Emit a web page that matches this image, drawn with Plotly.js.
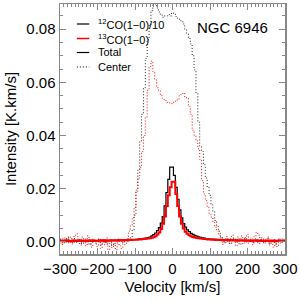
<!DOCTYPE html>
<html>
<head>
<meta charset="utf-8">
<script src="https://cdn.plot.ly/plotly-3.0.1.min.js"></script>
<style>html,body{margin:0;padding:0;background:#fff}#chart{width:300px;height:300px}</style>
</head>
<body>
<div id="chart"></div>
<script>
// Velocity channels [km/s]
const velocity = [
-300,-295,-290,-285,-280,-275,-270,-265,-260,-255,
-250,-245,-240,-235,-230,-225,-220,-215,-210,-205,
-200,-195,-190,-185,-180,-175,-170,-165,-160,-155,
-150,-145,-140,-135,-130,-125,-120,-115,-110,-105,
-100,-95,-90,-85,-80,-75,-70,-65,-60,-55,
-50,-45,-40,-35,-30,-25,-20,-15,-10,-5,
0,5,10,15,20,25,30,35,40,45,
50,55,60,65,70,75,80,85,90,95,
100,105,110,115,120,125,130,135,140,145,
150,155,160,165,170,175,180,185,190,195,
200,205,210,215,220,225,230,235,240,245,
250,255,260,265,270,275,280,285,290,295,
300];

// 12CO(1-0)/10, Center (black dotted)
const center12 = [
0.0010,0.0004,-0.0006,0.0008,0.0015,0.0002,-0.0004,0.0006,0.0012,-0.0002,
0.0005,0.0009,-0.0008,0.0003,0.0011,0.0000,-0.0010,0.0004,0.0007,-0.0005,
0.0002,0.0010,-0.0012,-0.0003,0.0006,-0.0009,0.0001,0.0008,-0.0015,-0.0006,
0.0004,-0.0002,0.0009,0.0003,-0.0004,0.0006,0.0002,0.0008,
0.0015,0.0045,0.010,0.019,0.027,0.038,0.048,0.058,0.069,0.076,
0.0815,0.087,0.0905,0.0895,0.088,0.0865,0.0855,0.0845,0.085,0.085,
0.0855,0.085,0.0862,0.0858,0.0848,0.0842,0.0838,0.083,0.082,0.080,
0.0785,0.0765,0.0745,0.070,0.0647,0.056,0.045,0.036,0.034,0.029,
0.024,0.0205,0.0175,0.014,0.0115,0.008,0.0058,0.004,0.002,
0.0008,-0.0004,0.0010,0.0003,-0.0008,0.0006,0.0012,-0.0002,0.0005,-0.0010,
0.0007,0.0002,0.0014,-0.0005,0.0004,0.0009,-0.0003,0.0011,0.0006,-0.0007,
0.0003,0.0010,-0.0004,0.0005,0.0013,-0.0006,0.0002,0.0008,-0.0009,0.0004,
0.0010,-0.0003,0.0006,0.0002];

// 13CO(1-0), Center (red dotted)
const center13 = [
0.0005,-0.0010,0.0015,0.0008,-0.0005,0.0020,0.0012,-0.0008,0.0025,0.0030,
0.0010,-0.0012,0.0018,0.0004,-0.0015,0.0022,0.0006,-0.0020,0.0010,0.0002,
-0.0018,0.0012,-0.0025,0.0008,-0.0010,0.0015,-0.0030,0.0005,-0.0022,-0.0008,
-0.0030,0.0010,-0.0015,-0.0025,0.0004,-0.0010,
0.0012,0.004,0.006,0.009,0.013,0.0195,0.024,0.028,0.034,0.040,
0.047,0.057,0.066,0.068,0.064,0.061,0.058,0.057,0.055,0.054,
0.0535,0.0525,0.0525,0.052,0.052,0.0525,0.053,0.0535,0.055,0.0555,
0.056,0.0545,0.054,0.051,0.048,0.042,0.040,0.038,0.035,0.031,
0.023,0.018,0.0155,0.013,0.0105,0.0093,0.0075,0.0055,0.004,0.0025,
0.0015,
-0.0010,0.0008,0.0020,-0.0005,0.0012,0.0025,0.0005,-0.0015,0.0018,0.0010,
0.0022,-0.0008,0.0015,0.0028,0.0006,0.0012,-0.0010,0.0020,0.0035,0.0025,
0.0008,0.0015,-0.0005,0.0010,0.0018,-0.0012,0.0005,-0.0020,0.0008,-0.0018,
0.0010,-0.0005,0.0012,0.0003];

// 12CO(1-0)/10, Total (black solid)
const total12 = [
0.0002,0.0003,0.0002,0.0003,0.0002,0.0003,0.0003,0.0002,0.0003,0.0003,
0.0003,0.0004,0.0003,0.0003,0.0004,0.0003,0.0004,0.0004,0.0003,0.0004,
0.0004,0.0004,0.0005,0.0004,0.0005,0.0005,0.0004,0.0005,0.0005,0.0006,
0.0005,0.0006,0.0006,0.0006,0.0007,0.0006,0.0007,0.0007,0.0008,0.0008,
0.0008,0.0009,0.0010,0.0011,0.0012,0.0013,0.0014,0.0016,0.0018,0.0022,
0.0027,0.0033,0.0042,0.0053,0.0070,0.0095,0.0135,0.0185,0.0235,0.0281,
0.0281,0.0250,0.0205,0.0160,0.0120,0.0090,0.0068,0.0055,0.0045,0.0038,
0.0032,0.0028,0.0024,0.0021,0.0019,0.0017,0.0015,0.0014,0.0012,0.0011,
0.0010,
0.0010,0.0009,0.0009,0.0008,0.0008,0.0008,0.0007,0.0007,0.0007,0.0006,
0.0006,0.0006,0.0006,0.0005,0.0005,0.0005,0.0005,0.0005,0.0004,0.0004,
0.0004,0.0004,0.0004,0.0004,0.0003,0.0004,0.0003,0.0003,0.0003,0.0003,
0.0003,0.0003,0.0003,0.0002,0.0003,0.0003,0.0002,0.0003,0.0002,0.0003];

// 13CO(1-0), Total (red solid)
const total13 = [
0.0003,0.0005,0.0002,0.0004,0.0006,0.0003,0.0002,0.0005,0.0004,0.0003,
0.0006,0.0004,0.0003,0.0005,0.0002,0.0004,0.0006,0.0003,0.0005,0.0004,
0.0003,0.0005,0.0004,0.0006,0.0003,0.0005,0.0004,0.0006,0.0005,0.0004,
0.0006,0.0005,0.0007,0.0005,0.0006,0.0007,0.0006,0.0008,0.0007,0.0008,
0.0008,0.0008,0.0009,0.0009,0.0010,0.0010,0.0011,0.0012,0.0013,0.0015,
0.0017,0.0021,0.0027,0.0035,0.0048,0.0068,0.0095,0.0135,0.0175,0.0205,
0.0226,0.0226,0.0180,0.0135,0.0095,0.0068,0.0050,0.0038,0.0030,0.0025,
0.0021,0.0018,0.0016,0.0014,0.0013,0.0012,0.0011,0.0010,0.0010,0.0009,
0.0009,
0.0008,0.0009,0.0007,0.0008,0.0007,0.0008,0.0006,0.0007,0.0006,0.0007,
0.0005,0.0006,0.0005,0.0006,0.0004,0.0006,0.0005,0.0004,0.0006,0.0004,
0.0005,0.0003,0.0005,0.0004,0.0006,0.0003,0.0005,0.0004,0.0003,0.0005,
0.0004,0.0003,0.0005,0.0002,0.0004,0.0003,0.0005,0.0004,0.0003,0.0004];

const legendLabels = ['<sup>12</sup>CO(1\u22120)/10', '<sup>13</sup>CO(1\u22120)', 'Total', 'Center'];
const galaxyName = 'NGC 6946';
const xTickVals = [-300,-200,-100,0,100,200,300];
const xTickText = ['\u2212300','\u2212200','\u2212100','0','100','200','300'];
const yTickVals = [0,0.02,0.04,0.06,0.08];
const yTickText = ['0.00','0.02','0.04','0.06','0.08'];

const FONT = 'Liberation Sans, Arial, sans-serif';
const DOTS = '1px,2px';

const traces = [
  {x: velocity, y: center12, mode: 'lines', line: {color: '#222', width: 1, dash: DOTS, shape: 'hvh'}, showlegend: false},
  {x: velocity, y: center13, mode: 'lines', line: {color: '#ff0000', width: 1, dash: DOTS, shape: 'hvh'}, showlegend: false},
  {x: velocity, y: total12, mode: 'lines', line: {color: '#000', width: 1.2, shape: 'hvh'}, showlegend: false},
  {x: velocity, y: total13, mode: 'lines', line: {color: '#ff0000', width: 2, shape: 'hvh'}, showlegend: false}
];

// legend (drawn manually)
const legColors = ['#000', '#ff0000', '#000', '#000'];
const legDash = ['solid', 'solid', 'solid', DOTS];
const legY = [0.92, 0.862, 0.806, 0.748];
const shapes = [];
const annotations = [];
for (let i = 0; i < legendLabels.length; i++) {
  shapes.push({type: 'line', xref: 'paper', yref: 'paper', x0: 0.075, x1: 0.13, y0: legY[i], y1: legY[i],
    line: {color: legColors[i], width: i === 1 ? 1.5 : 1.2, dash: legDash[i]}});
  annotations.push({xref: 'paper', yref: 'paper', x: 0.162, y: legY[i], xanchor: 'left', yanchor: 'middle',
    text: legendLabels[i], showarrow: false, font: {family: FONT, size: 11, color: '#000'}});
}
annotations.push({xref: 'paper', yref: 'paper', x: 0.765, y: 0.905, xanchor: 'center', yanchor: 'middle',
  text: galaxyName, showarrow: false, font: {family: FONT, size: 15, color: '#000'}});

const axisCommon = {
  showgrid: false, zeroline: false, showline: true, linecolor: '#888', linewidth: 1.5,
  mirror: 'allticks', ticks: 'inside', tickcolor: '#888', tickwidth: 1,
  tickfont: {family: FONT, size: 15, color: '#000'}
};

const layout = {
  width: 300, height: 300,
  margin: {l: 60, r: 15, t: 4, b: 46},
  paper_bgcolor: '#fff', plot_bgcolor: '#fff',
  showlegend: false,
  xaxis: Object.assign({}, axisCommon, {
    range: [-300, 300], tickvals: xTickVals, ticktext: xTickText, ticklen: 6,
    minor: {dtick: 10, tick0: 0, ticks: 'inside', ticklen: 3, tickcolor: '#888', tickwidth: 1},
    title: {text: 'Velocity [km/s]', font: {family: FONT, size: 15, color: '#000'}, standoff: 6}
  }),
  yaxis: Object.assign({}, axisCommon, {
    range: [-0.0046, 0.0895], tickvals: yTickVals, ticktext: yTickText, ticklen: 6,
    minor: {dtick: 0.005, tick0: 0, ticks: 'inside', ticklen: 3, tickcolor: '#888', tickwidth: 1},
    title: {text: 'Intensity [K.km/s]', font: {family: FONT, size: 15, color: '#000'}, standoff: 6}
  }),
  shapes: shapes,
  annotations: annotations
};

Plotly.newPlot('chart', traces, layout, {staticPlot: true, displayModeBar: false});
</script>
</body>
</html>
